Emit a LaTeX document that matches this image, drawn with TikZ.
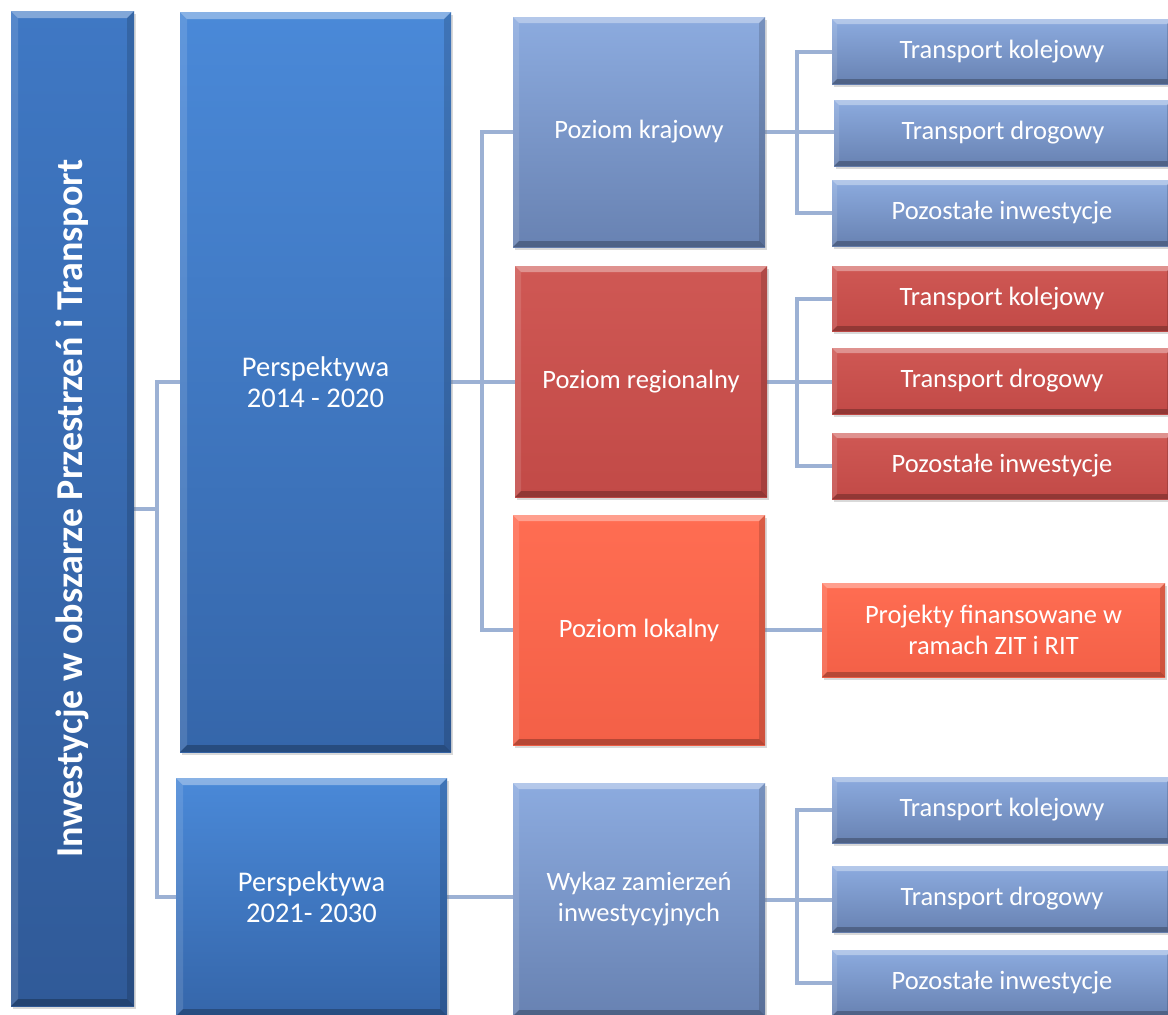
\documentclass[tikz,border=0pt]{standalone}
\usepackage{fontspec}
\setmainfont{Carlito}
\usetikzlibrary{shadows,backgrounds}
\definecolor{mainT}{HTML}{3F78C4}
\definecolor{mainB}{HTML}{305A98}
\definecolor{perT}{HTML}{4A89D8}
\definecolor{perB}{HTML}{3566AA}
\definecolor{lbT}{HTML}{8CABDF}
\definecolor{lbB}{HTML}{6882B2}
\definecolor{redT}{HTML}{CF5854}
\definecolor{redB}{HTML}{C24A47}
\definecolor{orT}{HTML}{FF6D52}
\definecolor{orB}{HTML}{F36047}
\definecolor{conn}{HTML}{9CB1D4}
\tikzset{
  bevel/.style={path picture={
    \coordinate (bnw) at (path picture bounding box.north west);
    \coordinate (bne) at (path picture bounding box.north east);
    \coordinate (bsw) at (path picture bounding box.south west);
    \coordinate (bse) at (path picture bounding box.south east);
    \coordinate (inw) at ([shift={(#1,-#1)}]bnw);
    \coordinate (ine) at ([shift={(-#1,-#1)}]bne);
    \coordinate (isw) at ([shift={(#1,#1)}]bsw);
    \coordinate (ise) at ([shift={(-#1,#1)}]bse);
    \fill[white,opacity=0.35] (bnw)--(bne)--(ine)--(inw)--cycle;
    \fill[white,opacity=0.12] (bnw)--(inw)--(isw)--(bsw)--cycle;
    \fill[black,opacity=0.15] (bne)--(ine)--(ise)--(bse)--cycle;
    \fill[black,opacity=0.25] (bsw)--(isw)--(ise)--(bse)--cycle;
  }},
  box/.style={rectangle, inner sep=0pt, align=center, text=white,
    font=\fontsize{26.5}{31}\selectfont,
    drop shadow={opacity=0.3,shadow xshift=1.5pt,shadow yshift=-3pt}},
  mainbox/.style={box, top color=mainT, bottom color=mainB, bevel=7pt},
  perbox/.style={box, top color=perT, bottom color=perB, bevel=7pt,
    font=\fontsize{28.5}{31}\selectfont},
  lbbox/.style={box, top color=lbT, bottom color=lbB, bevel=6pt},
  lbsmall/.style={box, top color=lbT, bottom color=lbB, bevel=5pt},
  redbox/.style={box, top color=redT, bottom color=redB, bevel=6pt},
  redsmall/.style={box, top color=redT, bottom color=redB, bevel=5pt},
  orbox/.style={box, top color=orT, bottom color=orB, bevel=6pt},
  orsmall/.style={box, top color=orT, bottom color=orB, bevel=5pt},
  link/.style={draw=conn, line width=4pt},
}
\begin{document}
\begin{tikzpicture}[x=1pt,y=-1pt]
\useasboundingbox (0,0) rectangle (1168,1015);
% level 0
\node[mainbox, minimum width=123pt, minimum height=995pt] (main) at (72.5,508.5)
  {\rotatebox{90}{\fontsize{38}{44}\selectfont\bfseries Inwestycje w obszarze Przestrzeń i Transport}};
% level 1
\node[perbox, minimum width=271pt, minimum height=740pt] (p1) at (315.5,382) {Perspektywa\\2014 - 2020};
\node[perbox, minimum width=271pt, minimum height=238pt] (p2) at (311.5,897) {Perspektywa\\2021- 2030};
% level 2
\node[lbbox, minimum width=252pt, minimum height=230pt] (kraj) at (639,132) {Poziom krajowy};
\node[redbox, minimum width=252pt, minimum height=231pt] (reg) at (641,381.5) {Poziom regionalny};
\node[orbox, minimum width=252pt, minimum height=230pt] (lok) at (639,630) {Poziom lokalny};
\node[lbbox, minimum width=252pt, minimum height=233pt] (wyk) at (639,899.5) {Wykaz zamierzeń\\inwestycyjnych};
% level 3
\node[lbsmall, minimum width=340pt, minimum height=65pt] (tk1) at (1002,51.5) {Transport kolejowy};
\node[lbsmall, minimum width=338pt, minimum height=66pt] (td1) at (1003,133) {Transport drogowy};
\node[lbsmall, minimum width=340pt, minimum height=66pt] (pi1) at (1002,213) {Pozostałe inwestycje};
\node[redsmall, minimum width=340pt, minimum height=65pt] (tk2) at (1002,298.5) {Transport kolejowy};
\node[redsmall, minimum width=340pt, minimum height=66pt] (td2) at (1002,381) {Transport drogowy};
\node[redsmall, minimum width=340pt, minimum height=66pt] (pi2) at (1002,466) {Pozostałe inwestycje};
\node[orsmall, minimum width=343pt, minimum height=94pt] (proj) at (993.5,630) {Projekty finansowane w\\ramach ZIT i RIT};
\node[lbsmall, minimum width=340pt, minimum height=66pt] (tk3) at (1002,810) {Transport kolejowy};
\node[lbsmall, minimum width=340pt, minimum height=66pt] (td3) at (1002,899) {Transport drogowy};
\node[lbsmall, minimum width=340pt, minimum height=66pt] (pi3) at (1002,983) {Pozostałe inwestycje};
% connectors
\begin{scope}[on background layer]
\coordinate (j0) at (157,508.5);
\draw[link] (main.east) -- (j0);
\draw[link] (p1.west) -| (j0);
\draw[link] (p2.west) -| (j0);
\coordinate (j1) at (482,381);
\draw[link] (p1.east) -- (p1.east -| reg.west);
\draw[link] (kraj.west) -| (j1);
\draw[link] (lok.west) -| (j1);
\draw[link] (kraj.east) -- (kraj.east -| td1.west);
\draw[link] (tk1.west) -- ++(-35,0) |- (pi1.west);
\draw[link] (reg.east) -- (reg.east -| td2.west);
\draw[link] (tk2.west) -- ++(-35,0) |- (pi2.west);
\draw[link] (lok.east) -- (lok.east -| proj.west);
\draw[link] (p2.east) -- (p2.east -| wyk.west);
\draw[link] (wyk.east) -- (wyk.east -| td3.west);
\draw[link] (tk3.west) -- ++(-35,0) |- (pi3.west);
\end{scope}
\end{tikzpicture}
\end{document}
